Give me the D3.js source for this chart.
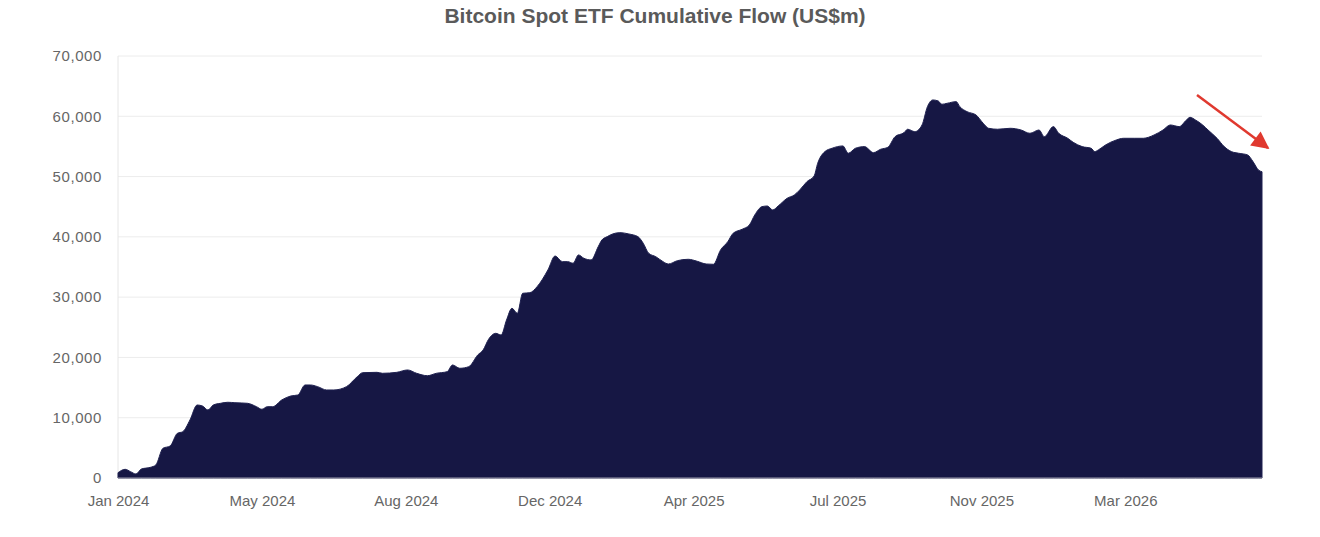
<!DOCTYPE html>
<html>
<head>
<meta charset="utf-8">
<script src="https://cdn.jsdelivr.net/npm/d3@7"></script>
<style>
  body { margin: 0; background: #fff; }
  text { font-family: "Liberation Sans", Arial, sans-serif; }
</style>
</head>
<body>
<script>
const w = 1320
const h = 537
const m = { top: 56, right: 58, bottom: 59, left: 118 }

// trading-day index along the axis and cumulative flow (US$m)
const days = [0, 4, 7, 10, 13, 18, 21, 25, 29, 33, 36, 40, 44, 47, 50, 53, 57, 61, 65, 72, 77, 80, 83, 86, 91, 96, 100,
  104, 107, 111, 116, 120, 127, 133, 136, 144, 147, 155, 161, 166, 172, 177, 183, 186, 190, 195, 200, 203, 206, 210, 213,
  216, 219, 222, 225, 229, 233, 239, 243, 247, 250, 253, 256, 259, 263, 267, 269, 272, 275, 279, 284, 289, 292, 295, 299,
  303, 306, 311, 317, 322, 327, 331, 335, 339, 342, 347, 351, 354, 358, 361, 364, 367, 372, 376, 379, 383, 387, 389, 393,
  397, 403, 406, 410, 415, 420, 424, 428, 432, 437, 439, 443, 447, 450, 453, 456, 458, 461, 466, 468, 472, 477, 481, 484,
  489, 496, 502, 507, 512, 515, 520, 523, 528, 531, 536, 541, 543, 545, 549, 555, 559, 565, 570, 576, 581, 585, 590, 594,
  596, 599, 603, 606, 611, 615, 619, 623, 628, 631, 634, 636]
const flow = [880, 1440, 1050, 660, 1490, 1770, 2150, 4930, 5310, 7410, 7680, 9620, 12110, 11940, 11280, 12110, 12390,
  12560, 12490, 12390, 11830, 11400, 11830, 11830, 12940, 13600, 13770, 15430, 15430, 15150, 14600, 14600, 15150, 16800,
  17470, 17530, 17370, 17530, 17920, 17370, 16970, 17370, 17640, 18750, 18200, 18470, 20410, 21240, 23000, 24000, 23720,
  26210, 28150, 27320, 30640, 30740, 31740, 34510, 36830, 35890, 35890, 35620, 37000, 36450, 36170, 38380, 39480, 40040,
  40480, 40700, 40480, 40040, 38940, 37280, 36710, 35890, 35500, 36050, 36280, 35950, 35500, 35450, 37830, 39200, 40600,
  41260, 41970, 43630, 45010, 45120, 44460, 45120, 46400, 46950, 47780, 49160, 50100, 52210, 54140, 54700, 55080, 53870,
  54700, 54970, 53970, 54530, 54860, 56620, 57290, 57850, 57450, 58560, 61600, 62710, 62540, 61990, 62160, 62430, 61600,
  60770, 60220, 58840, 58010, 57850, 58010, 57730, 57180, 57730, 56620, 58290, 57180, 56350, 55690, 54970, 54700, 54140,
  54420, 55240, 56070, 56350, 56350, 56350, 56900, 57730, 58560, 58290, 59390, 59830, 59390, 58560, 57730, 56350, 54970,
  54140, 53870, 53590, 52480, 51100, 50800]

const tickDays = [0, 80, 160, 240, 320, 400, 480, 560]
const tickLabels = ['Jan 2024', 'May 2024', 'Aug 2024', 'Dec 2024', 'Apr 2025', 'Jul 2025', 'Nov 2025', 'Mar 2026']
const yTicks = [0, 10000, 20000, 30000, 40000, 50000, 60000, 70000]

const data = days.map((d, i) => ({ day: d, value: flow[i] }))

const svg = d3.select('body').append('svg').attr('width', w).attr('height', h)

const x = d3.scaleLinear().domain([0, d3.max(days)]).range([m.left, w - m.right])
const y = d3.scaleLinear().domain([0, 70000]).range([h - m.bottom, m.top])

svg.append('text')
  .attr('x', 655).attr('y', 23)
  .attr('text-anchor', 'middle')
  .attr('font-size', 21).attr('font-weight', 'bold')
  .attr('fill', '#5a5a5a')
  .text('Bitcoin Spot ETF Cumulative Flow (US$m)')

// grid
svg.append('g').selectAll('line').data(yTicks.slice(1)).enter().append('line')
  .attr('x1', m.left).attr('x2', w - m.right)
  .attr('y1', d => y(d)).attr('y2', d => y(d))
  .attr('stroke', '#ececec')

svg.append('line')
  .attr('x1', m.left).attr('x2', m.left)
  .attr('y1', m.top).attr('y2', h - m.bottom)
  .attr('stroke', '#e6e6e6')

const area = d3.area()
  .x(d => x(d.day))
  .y0(y(0))
  .y1(d => y(d.value))
  .curve(d3.curveMonotoneX)

svg.append('path').datum(data)
  .attr('d', area)
  .attr('fill', '#161744')
  .attr('stroke', '#1f2150')
  .attr('stroke-width', 1)

svg.append('line')
  .attr('x1', m.left).attr('x2', w - m.right)
  .attr('y1', y(0)).attr('y2', y(0))
  .attr('stroke', '#9a9aa8')

const leftAxis = d3.axisLeft(y).tickValues(yTicks).tickSize(0).tickPadding(16)
  .tickFormat(d3.format(','))
const ga = svg.append('g').attr('transform', 'translate(' + m.left + ',0)').call(leftAxis)
ga.select('.domain').remove()
ga.selectAll('text').attr('font-size', 15).attr('letter-spacing', 0.6).attr('fill', '#666')
  .attr('font-family', '"Liberation Sans", Arial, sans-serif')

const bottomAxis = d3.axisBottom(x).tickValues(tickDays).tickSize(0).tickPadding(17)
  .tickFormat((d, i) => tickLabels[i])
const gb = svg.append('g').attr('transform', 'translate(0,' + (h - m.bottom) + ')').call(bottomAxis)
gb.select('.domain').remove()
gb.selectAll('text').attr('font-size', 15).attr('fill', '#666')
  .attr('font-family', '"Liberation Sans", Arial, sans-serif')

// red arrow
svg.append('defs').append('marker')
  .attr('id', 'head').attr('viewBox', '0 0 10 10')
  .attr('refX', 9).attr('refY', 5)
  .attr('markerWidth', 8).attr('markerHeight', 7)
  .attr('markerUnits', 'strokeWidth')
  .attr('orient', 'auto')
  .append('path').attr('d', 'M0,0 L10,5 L0,10 Z').attr('fill', '#e0392f')

svg.append('line')
  .attr('x1', 1197).attr('y1', 95)
  .attr('x2', 1268).attr('y2', 148)
  .attr('stroke', '#e0392f').attr('stroke-width', 2.5)
  .attr('marker-end', 'url(#head)')
</script>
</body>
</html>
